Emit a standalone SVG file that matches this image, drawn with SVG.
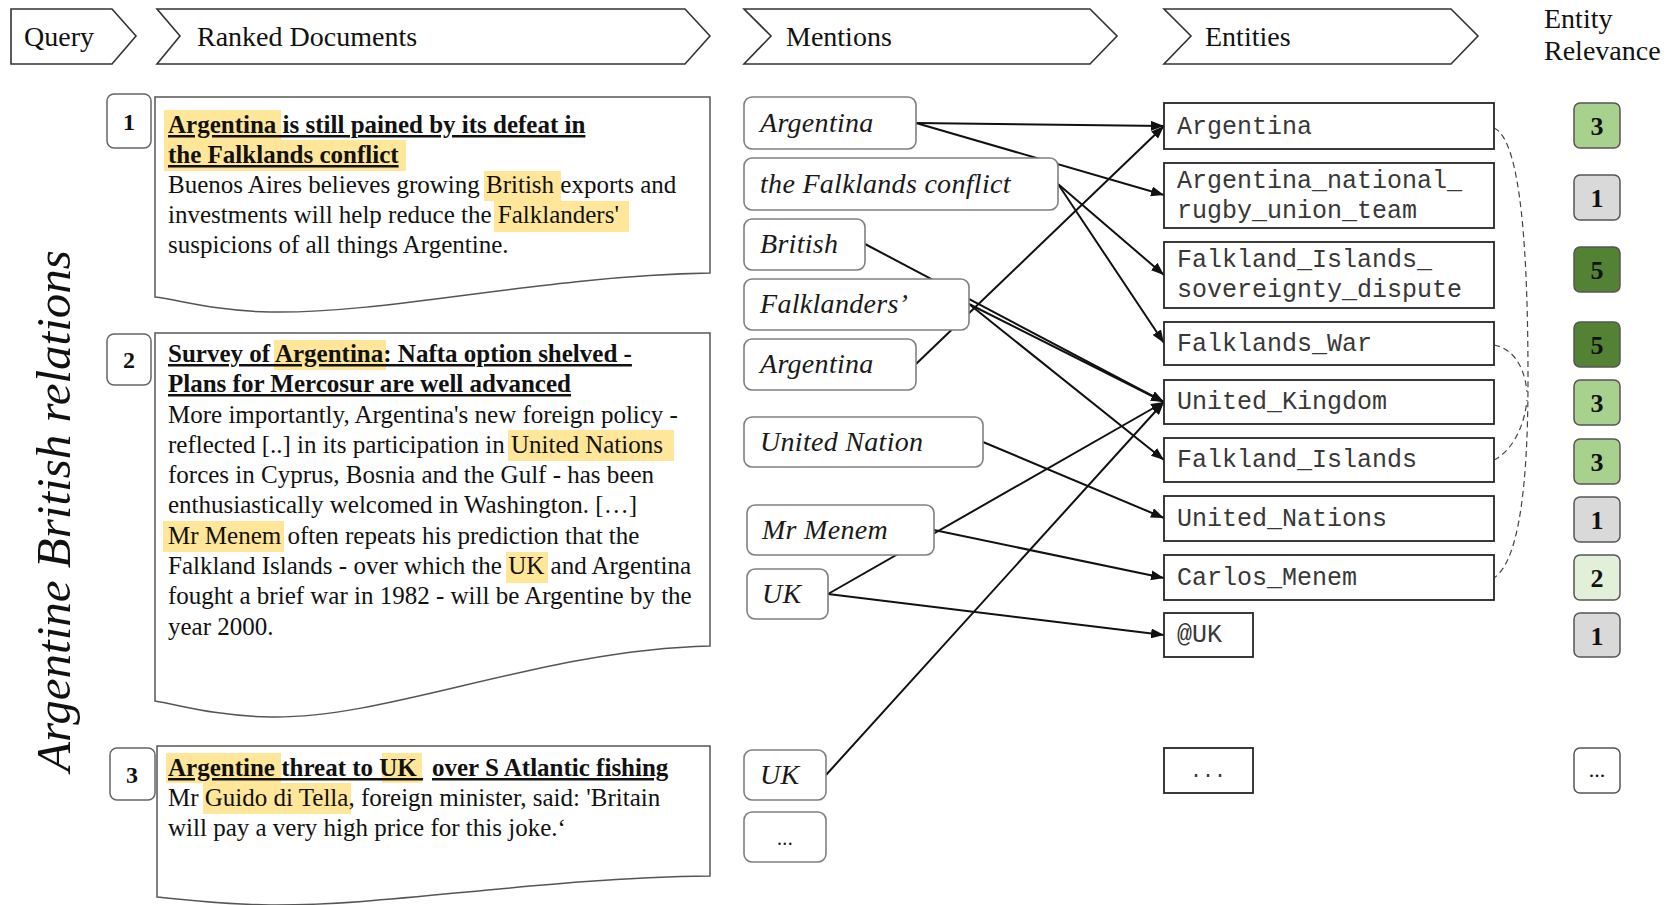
<svg xmlns="http://www.w3.org/2000/svg" width="1679" height="905" viewBox="0 0 1679 905">
<style>
.hdr{fill:#fff;stroke:#333;stroke-width:1.6}
.htx{font-family:"Liberation Serif",serif;font-size:28px;fill:#111}
.doc{fill:#fff;stroke:#555;stroke-width:1.5}
.num{fill:#fff;stroke:#666;stroke-width:1.5}
.ntx{font-family:"Liberation Serif",serif;font-size:24px;font-weight:bold;fill:#111;text-anchor:middle}
.dt{font-family:"Liberation Serif",serif;font-size:25px;fill:#111}
.db{font-family:"Liberation Serif",serif;font-size:25px;fill:#111;font-weight:bold;text-decoration:underline}
.hl{fill:#FFE699}
.men{fill:#fff;stroke:#808080;stroke-width:1.6}
.mtx{font-family:"Liberation Serif",serif;font-size:28px;font-style:italic;fill:#1a1a1a;letter-spacing:0.3px}
.ent{fill:#fff;stroke:#262626;stroke-width:1.8}
.etx{font-family:"Liberation Mono",monospace;font-size:25px;fill:#383838}
.rel{stroke:#555;stroke-width:1.5}
.rtx{font-family:"Liberation Serif",serif;font-size:26px;font-weight:bold;fill:#111;text-anchor:middle}
.ln{stroke:#111;stroke-width:2;fill:none;marker-end:url(#ah)}
.ds{stroke:#444;stroke-width:1.2;fill:none;stroke-dasharray:6 4}
</style>
<defs>
<marker id="ah" markerUnits="userSpaceOnUse" markerWidth="13" markerHeight="10" refX="13" refY="5" orient="auto">
<path d="M0,0 L13,5 L0,10 Z" fill="#111"/>
</marker>
</defs>
<rect width="1679" height="905" fill="#fff"/>

<g id="headers">
<g id="h-query"><path class="hdr" d="M11,9 H112 L136,36 L112,64 H11 Z"/><text class="htx" x="24" y="46">Query</text></g>
<g id="h-docs"><path class="hdr" d="M157,9 H685 L710,36 L685,64 H157 L180,36 Z"/><text class="htx" x="197" y="46">Ranked Documents</text></g>
<g id="h-mentions"><path class="hdr" d="M744,9 H1090 L1117,36 L1090,64 H744 L771,36 Z"/><text class="htx" x="786" y="46">Mentions</text></g>
<g id="h-entities"><path class="hdr" d="M1164,9 H1451 L1478,36 L1451,64 H1164 L1191,36 Z"/><text class="htx" x="1205" y="46">Entities</text></g>
<g id="h-relevance"><text class="htx" x="1544" y="28">Entity</text><text class="htx" x="1544" y="60">Relevance</text></g>
</g>

<text id="query-label" transform="translate(70,511) rotate(-90)" text-anchor="middle" style="font-family:'Liberation Serif',serif;font-size:49px;font-style:italic;fill:#111">Argentine British relations</text>

<g id="doc1">
<path class="doc" d="M155,97 H710 V273 C540,276 390,314 270,312 C215,311 180,300 155,297 Z"/>
<rect class="num" x="107" y="94" width="44" height="54" rx="7"/>
<text class="ntx" x="129" y="130">1</text>
<rect class="hl" x="164" y="110" width="117" height="30"/>
<rect class="hl" x="164" y="140" width="242" height="31"/>
<rect class="hl" x="484" y="171" width="77" height="30"/>
<rect class="hl" x="494" y="201" width="135" height="31"/>
<text class="db" x="168" y="133">Argentina is still pained by its defeat in</text>
<text class="db" x="168" y="163">the Falklands conflict</text>
<text class="dt" x="168" y="193">Buenos Aires believes growing British exports and</text>
<text class="dt" x="168" y="223">investments will help reduce the Falklanders'</text>
<text class="dt" x="168" y="253">suspicions of all things Argentine.</text>
</g>

<g id="doc2">
<path class="doc" d="M155,333 H710 V646 C540,650 390,719 270,717 C215,716 180,705 155,701 Z"/>
<rect class="num" x="107" y="334" width="44" height="51" rx="7"/>
<text class="ntx" x="129" y="368">2</text>
<rect class="hl" x="274" y="340" width="112" height="30"/>
<rect class="hl" x="508" y="430" width="166" height="31"/>
<rect class="hl" x="163" y="521" width="121" height="31"/>
<rect class="hl" x="506" y="552" width="42" height="31"/>
<text class="db" x="168" y="362">Survey of Argentina: Nafta option shelved -</text>
<text class="db" x="168" y="392">Plans for Mercosur are well advanced</text>
<text class="dt" x="168" y="423">More importantly, Argentina's new foreign policy -</text>
<text class="dt" x="168" y="453">reflected [..] in its participation in United Nations</text>
<text class="dt" x="168" y="483">forces in Cyprus, Bosnia and the Gulf - has been</text>
<text class="dt" x="168" y="513">enthusiastically welcomed in Washington. […]</text>
<text class="dt" x="168" y="544">Mr Menem often repeats his prediction that the</text>
<text class="dt" x="168" y="574">Falkland Islands - over which the UK and Argentina</text>
<text class="dt" x="168" y="604">fought a brief war in 1982 - will be Argentine by the</text>
<text class="dt" x="168" y="635">year 2000.</text>
</g>

<g id="doc3">
<path class="doc" d="M157,746 H710 V876 C540,878 390,906 270,905 C215,904 180,899 157,897 Z"/>
<rect class="num" x="110" y="748" width="45" height="52" rx="7"/>
<text class="ntx" x="132" y="783">3</text>
<rect class="hl" x="166" y="753" width="115" height="30"/>
<rect class="hl" x="382" y="753" width="40" height="30"/>
<rect class="hl" x="203" y="783" width="148" height="31"/>
<text class="db" x="168" y="776">Argentine threat to UK <tspan x="432">over S Atlantic fishing</tspan></text>
<text class="dt" x="168" y="806">Mr Guido di Tella, foreign minister, said: 'Britain</text>
<text class="dt" x="168" y="836">will pay a very high price for this joke.‘</text>
</g>

<g id="connectors">
<line class="ln" x1="916" y1="123" x2="1164" y2="126"/>
<line class="ln" x1="916" y1="123" x2="1164" y2="195"/>
<line class="ln" x1="1058" y1="184" x2="1164" y2="275"/>
<line class="ln" x1="1058" y1="184" x2="1164" y2="343"/>
<line class="ln" x1="865" y1="244" x2="1164" y2="402"/>
<line class="ln" x1="969" y1="304" x2="1164" y2="402"/>
<line class="ln" x1="969" y1="304" x2="1164" y2="460"/>
<line class="ln" x1="916" y1="364" x2="1164" y2="126"/>
<line class="ln" x1="983" y1="442" x2="1164" y2="518"/>
<line class="ln" x1="934" y1="530" x2="1164" y2="578"/>
<line class="ln" x1="828" y1="594" x2="1164" y2="402"/>
<line class="ln" x1="828" y1="594" x2="1164" y2="635"/>
<line class="ln" x1="826" y1="775" x2="1164" y2="402"/>
<path class="ds" d="M1494,128 C1522,140 1528,260 1528,380 C1528,480 1520,560 1494,578"/>
<path class="ds" d="M1494,345 C1510,348 1524,362 1527,392"/>
<path class="ds" d="M1494,460 C1510,452 1524,430 1527,400"/>
</g>

<g id="m-argentina-1"><rect class="men" x="744" y="97" width="172" height="52" rx="8"/><text class="mtx" x="760" y="132">Argentina</text></g>
<g id="m-falklands-conflict"><rect class="men" x="744" y="158" width="314" height="52" rx="8"/><text class="mtx" x="760" y="193">the Falklands conflict</text></g>
<g id="m-british"><rect class="men" x="744" y="219" width="121" height="51" rx="8"/><text class="mtx" x="760" y="253">British</text></g>
<g id="m-falklanders"><rect class="men" x="744" y="279" width="225" height="51" rx="8"/><text class="mtx" x="760" y="313">Falklanders’</text></g>
<g id="m-argentina-2"><rect class="men" x="744" y="339" width="172" height="51" rx="8"/><text class="mtx" x="760" y="373">Argentina</text></g>
<g id="m-united-nation"><rect class="men" x="744" y="417" width="239" height="50" rx="8"/><text class="mtx" x="760" y="451">United Nation</text></g>
<g id="m-mr-menem"><rect class="men" x="747" y="505" width="187" height="50" rx="8"/><text class="mtx" x="762" y="539">Mr Menem</text></g>
<g id="m-uk-1"><rect class="men" x="747" y="569" width="81" height="50" rx="8"/><text class="mtx" x="762" y="603">UK</text></g>
<g id="m-uk-2"><rect class="men" x="744" y="750" width="82" height="50" rx="8"/><text class="mtx" x="760" y="784">UK</text></g>
<g id="m-more"><rect class="men" x="744" y="812" width="82" height="50" rx="8"/><text class="mtx" x="785" y="845" text-anchor="middle" style="font-size:20px;font-style:normal">...</text></g>

<g id="e-argentina"><rect class="ent" x="1164" y="103" width="330" height="46"/><text class="etx" x="1177" y="134">Argentina</text></g>
<g id="e-rugby"><rect class="ent" x="1164" y="163" width="330" height="65"/><text class="etx" x="1177" y="188">Argentina_national_</text><text class="etx" x="1177" y="218">rugby_union_team</text></g>
<g id="e-sovereignty"><rect class="ent" x="1164" y="242" width="330" height="66"/><text class="etx" x="1177" y="267">Falkland_Islands_</text><text class="etx" x="1177" y="297">sovereignty_dispute</text></g>
<g id="e-falklands-war"><rect class="ent" x="1164" y="322" width="330" height="43"/><text class="etx" x="1177" y="351">Falklands_War</text></g>
<g id="e-united-kingdom"><rect class="ent" x="1164" y="380" width="330" height="44"/><text class="etx" x="1177" y="409">United_Kingdom</text></g>
<g id="e-falkland-islands"><rect class="ent" x="1164" y="438" width="330" height="44"/><text class="etx" x="1177" y="467">Falkland_Islands</text></g>
<g id="e-united-nations"><rect class="ent" x="1164" y="496" width="330" height="45"/><text class="etx" x="1177" y="526">United_Nations</text></g>
<g id="e-carlos-menem"><rect class="ent" x="1164" y="555" width="330" height="45"/><text class="etx" x="1177" y="585">Carlos_Menem</text></g>
<g id="e-uk"><rect class="ent" x="1164" y="613" width="89" height="44"/><text class="etx" x="1177" y="642">@UK</text></g>
<g id="e-more"><rect class="ent" x="1164" y="748" width="89" height="45"/><text class="etx" x="1208" y="777" text-anchor="middle" style="font-size:20px">...</text></g>

<g id="r-1"><rect class="rel" x="1574" y="103" width="46" height="45" rx="6" fill="#A9D18E"/><text class="rtx" x="1597" y="135">3</text></g>
<g id="r-2"><rect class="rel" x="1574" y="175" width="46" height="45" rx="6" fill="#D9D9D9"/><text class="rtx" x="1597" y="207">1</text></g>
<g id="r-3"><rect class="rel" x="1574" y="247" width="46" height="45" rx="6" fill="#548235"/><text class="rtx" x="1597" y="279">5</text></g>
<g id="r-4"><rect class="rel" x="1574" y="322" width="46" height="45" rx="6" fill="#548235"/><text class="rtx" x="1597" y="354">5</text></g>
<g id="r-5"><rect class="rel" x="1574" y="380" width="46" height="45" rx="6" fill="#A9D18E"/><text class="rtx" x="1597" y="412">3</text></g>
<g id="r-6"><rect class="rel" x="1574" y="439" width="46" height="45" rx="6" fill="#A9D18E"/><text class="rtx" x="1597" y="471">3</text></g>
<g id="r-7"><rect class="rel" x="1574" y="497" width="46" height="45" rx="6" fill="#D9D9D9"/><text class="rtx" x="1597" y="529">1</text></g>
<g id="r-8"><rect class="rel" x="1574" y="555" width="46" height="45" rx="6" fill="#E2F0D9"/><text class="rtx" x="1597" y="587">2</text></g>
<g id="r-9"><rect class="rel" x="1574" y="613" width="46" height="44" rx="6" fill="#D9D9D9"/><text class="rtx" x="1597" y="645">1</text></g>
<g id="r-10"><rect class="rel" x="1574" y="748" width="46" height="45" rx="6" fill="#fff"/><text class="rtx" x="1597" y="777" style="font-weight:normal;font-size:22px">...</text></g>
</svg>
